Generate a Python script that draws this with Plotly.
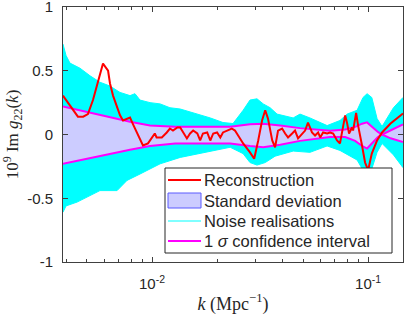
import plotly.graph_objects as go

# ---------------- data ----------------
k_rec = [0.00387, 0.00408, 0.00431, 0.00454, 0.00480, 0.00505, 0.00533, 0.00562, 0.00593, 0.00626,
         0.00639, 0.00660, 0.00689, 0.00711, 0.00734, 0.00766, 0.00791, 0.00817, 0.00834, 0.00880,
         0.00908, 0.00958, 0.0101, 0.0103, 0.0105, 0.0111, 0.0117, 0.0121, 0.0125, 0.0131,
         0.0135, 0.0139, 0.0145, 0.0150, 0.0155, 0.0162, 0.0167, 0.0172, 0.0180, 0.0186,
         0.0192, 0.0200, 0.0207, 0.0213, 0.0225, 0.0234, 0.0242, 0.0250, 0.0264, 0.0284,
         0.0297, 0.0310, 0.0323, 0.0334, 0.0344, 0.0360, 0.0371, 0.0383, 0.0400, 0.0413,
         0.0426, 0.0445, 0.0459, 0.0474, 0.0495, 0.0511, 0.0527, 0.0550, 0.0568, 0.0587,
         0.0600, 0.0619, 0.0646, 0.0667, 0.0689, 0.0718, 0.0741, 0.0765, 0.0783, 0.0800,
         0.0816, 0.0843, 0.0852, 0.0880, 0.0899, 0.0937, 0.0968, 0.100, 0.104, 0.110,
         0.116, 0.127, 0.136, 0.145]
g_rec = [0.305, 0.25, 0.19, 0.14, 0.14, 0.16, 0.27, 0.42, 0.556, 0.50,
         0.40, 0.305, 0.21, 0.15, 0.11, 0.125, 0.133, 0.08, 0.047, -0.03,
         -0.086, -0.07, -0.008, 0.008, -0.023, -0.023, 0.016, 0.047, 0.031, 0.055,
         0.055, 0.016, -0.031, 0.008, 0.031, 0.008, -0.047, 0.008, 0.016, -0.047,
         0.008, 0.016, -0.023, 0.016, 0.031, 0.047, 0.031, -0.008, -0.07, -0.14,
         -0.19, -0.047, 0.11, 0.19, 0.125, -0.047, -0.10, 0.031, 0.047, 0.008,
         -0.023, 0.008, 0.031, -0.031, 0.008, 0.031, 0.094, 0.016, -0.008, 0.016,
         -0.023, 0.016, 0.008, 0.016, 0.008, -0.047, -0.07, 0.055, 0.15, 0.086,
         0.008, 0.055, 0.031, 0.17, 0.07, -0.086, -0.22, -0.28, -0.15, -0.047,
         0.016, 0.086, 0.125, 0.164]

k_sig = [0.00387, 0.00464, 0.00606, 0.00791, 0.00979, 0.0128, 0.0167, 0.0230, 0.0284, 0.0327,
         0.0392, 0.0484, 0.0667, 0.0783, 0.0871, 0.0937, 0.0989, 0.104, 0.111, 0.116,
         0.127, 0.145]
sig_upper = [0.22, 0.19, 0.14, 0.10, 0.07, 0.06, 0.06, 0.06, 0.08, 0.085,
             0.07, 0.05, 0.03, 0.04, 0.06, 0.085, 0.095, 0.06, 0.02, 0.0,
             -0.03, -0.06]
sig_lower = [-0.23, -0.20, -0.16, -0.12, -0.09, -0.07, -0.07, -0.07, -0.09, -0.10,
             -0.08, -0.05, -0.02, -0.02, -0.05, -0.09, -0.11, -0.07, -0.02, 0.0,
             0.03, 0.08]

k_noise_hi = [0.00387, 0.00400, 0.00417, 0.00464, 0.00517, 0.00574, 0.00639, 0.00711, 0.00791, 0.00834,
              0.00880, 0.00979, 0.0109, 0.0121, 0.0135, 0.0162, 0.0186, 0.0213, 0.0237, 0.0264,
              0.0284, 0.0306, 0.0327, 0.0352, 0.0379, 0.0450, 0.0484, 0.0538, 0.0646, 0.0741,
              0.0800, 0.0889, 0.0947, 0.0989, 0.104, 0.110, 0.116, 0.131, 0.145]
noise_hi = [0.71, 0.62, 0.56, 0.52, 0.46, 0.41, 0.38, 0.33, 0.305, 0.32,
            0.27, 0.25, 0.24, 0.21, 0.20, 0.16, 0.13, 0.094, 0.086, 0.19,
            0.27, 0.28, 0.24, 0.21, 0.16, 0.13, 0.16, 0.13, 0.07, 0.11,
            0.16, 0.19, 0.29, 0.32, 0.29, 0.125, 0.063, 0.21, 0.29]
k_noise_lo = [0.00387, 0.00400, 0.00450, 0.00517, 0.00574, 0.00689, 0.00766, 0.00880, 0.0109, 0.0135,
              0.0167, 0.0186, 0.0230, 0.0264, 0.0284, 0.0306, 0.0334, 0.0371, 0.0450, 0.0538,
              0.0646, 0.0741, 0.0825, 0.0889, 0.0947, 0.0989, 0.104, 0.110, 0.116, 0.131,
              0.145]
noise_lo = [-0.61, -0.56, -0.53, -0.48, -0.44, -0.44, -0.36, -0.31, -0.23, -0.18,
            -0.15, -0.13, -0.10, -0.15, -0.22, -0.24, -0.22, -0.17, -0.13, -0.14,
            -0.09, -0.125, -0.17, -0.20, -0.28, -0.33, -0.27, -0.14, -0.07, -0.16,
            -0.26]

x_tickvals = [0.01, 0.1]
x_ticktext = ["10<sup>-2</sup>", "10<sup>-1</sup>"]
x_minor = [0.004, 0.005, 0.006, 0.007, 0.008, 0.009, 0.02, 0.03, 0.04, 0.05, 0.06, 0.07, 0.08, 0.09]
y_tickvals = [-1, -0.5, 0, 0.5, 1]
y_ticktext = ["-1", "-0.5", "0", "0.5", "1"]

legend_labels = ["Reconstruction", "Standard deviation", "Noise realisations",
                 "1 <i>σ</i> confidence interval"]

# ---------------- styles ----------------
RED = "#ff0000"
MAG = "#ff00ff"
CYAN = "#00ffff"
LAV = "rgb(204,204,255)"
AXC = "#404040"
TXT = "#262626"
SANS = "Liberation Sans, Arial, sans-serif"
SERIF = "Liberation Serif, Times New Roman, serif"

fig = go.Figure()

# noise realisations (band spanned by the realisations)
fig.add_trace(go.Scatter(x=k_noise_hi, y=noise_hi, mode="lines",
                         line=dict(color=CYAN, width=1), name="Noise realisations",
                         showlegend=False, hoverinfo="skip"))
fig.add_trace(go.Scatter(x=k_noise_lo, y=noise_lo, mode="lines", fill="tonexty",
                         fillcolor=CYAN, line=dict(color=CYAN, width=1),
                         name="Noise realisations", showlegend=False, hoverinfo="skip"))

# standard deviation shading
fig.add_trace(go.Scatter(x=k_sig, y=sig_upper, mode="lines",
                         line=dict(color=LAV, width=0.5), showlegend=False, hoverinfo="skip"))
fig.add_trace(go.Scatter(x=k_sig, y=sig_lower, mode="lines", fill="tonexty",
                         fillcolor=LAV, line=dict(color=LAV, width=0.5),
                         name="Standard deviation", showlegend=False, hoverinfo="skip"))

# 1 sigma lines
fig.add_trace(go.Scatter(x=k_sig, y=sig_upper, mode="lines",
                         line=dict(color=MAG, width=2), name="1 σ confidence interval",
                         showlegend=False))
fig.add_trace(go.Scatter(x=k_sig, y=sig_lower, mode="lines",
                         line=dict(color=MAG, width=2), showlegend=False))

# reconstruction
fig.add_trace(go.Scatter(x=k_rec, y=g_rec, mode="lines",
                         line=dict(color=RED, width=2), name="Reconstruction",
                         showlegend=False))

# ---------------- manual legend (MATLAB style) ----------------
L, R, T, B = 63, 403, 7, 262
W, H = R - L, B - T
def px(x):
    return (x - L) / W
def py(y):
    return (B - y) / H

shapes = [dict(type="rect", xref="paper", yref="paper", layer="above",
               x0=px(165), x1=px(392), y0=py(253), y1=py(168),
               fillcolor="white", line=dict(color=TXT, width=1))]
row_y = [180, 201, 221, 241]
shapes.append(dict(type="line", xref="paper", yref="paper", layer="above",
                   x0=px(168), x1=px(201), y0=py(row_y[0]), y1=py(row_y[0]),
                   line=dict(color=RED, width=2)))
shapes.append(dict(type="rect", xref="paper", yref="paper", layer="above",
                   x0=px(168), x1=px(201), y0=py(208), y1=py(193),
                   fillcolor=LAV, line=dict(color="rgb(90,90,255)", width=1)))
shapes.append(dict(type="line", xref="paper", yref="paper", layer="above",
                   x0=px(168), x1=px(201), y0=py(row_y[2]), y1=py(row_y[2]),
                   line=dict(color=CYAN, width=1)))
shapes.append(dict(type="line", xref="paper", yref="paper", layer="above",
                   x0=px(168), x1=px(201), y0=py(row_y[3]), y1=py(row_y[3]),
                   line=dict(color=MAG, width=2)))

annotations = []
for lab, yy in zip(legend_labels, row_y):
    annotations.append(dict(text=lab, xref="paper", yref="paper", x=px(202), y=py(yy),
                            xanchor="left", yanchor="middle", showarrow=False,
                            font=dict(family=SANS, size=16.5, color=TXT)))

fig.update_layout(
    width=405, height=315,
    margin=dict(l=L, r=405 - R, t=T, b=315 - B, autoexpand=False),
    paper_bgcolor="white", plot_bgcolor="white",
    showlegend=False,
    shapes=shapes, annotations=annotations,
    xaxis=dict(type="log", range=[-2.412, -0.8386], automargin=False,
               tickvals=x_tickvals, ticktext=x_ticktext,
               ticks="inside", ticklen=5, tickcolor=AXC, tickwidth=1,
               minor=dict(tickvals=x_minor, ticks="inside", ticklen=3, tickcolor=AXC),
               showline=True, linecolor=AXC, linewidth=1, mirror="ticks",
               showgrid=False, zeroline=False, ticklabeloverflow="allow",
               tickfont=dict(family=SANS, size=15, color=TXT), ticklabelstandoff=8,
               title=dict(text="<i>k</i> (Mpc<sup>−1</sup>)",
                          font=dict(family=SERIF, size=18, color=TXT), standoff=7)),
    yaxis=dict(range=[-1, 1], automargin=False, tickvals=y_tickvals, ticktext=y_ticktext,
               ticks="inside", ticklen=5, tickcolor=AXC, tickwidth=1,
               showline=True, linecolor=AXC, linewidth=1, mirror="ticks",
               showgrid=False, zeroline=False, ticklabeloverflow="allow",
               tickfont=dict(family=SANS, size=15, color=TXT), ticklabelstandoff=6,
               title=dict(text="10<sup>9</sup> Im <i>g</i><sub>22</sub>(<i>k</i>)",
                          font=dict(family=SERIF, size=17, color=TXT), standoff=4)),
)

fig.write_html("out.html", config={"displayModeBar": False},
               post_script="document.body.style.margin='0';document.body.style.padding='0';"
                           "document.body.style.overflow='hidden';")
